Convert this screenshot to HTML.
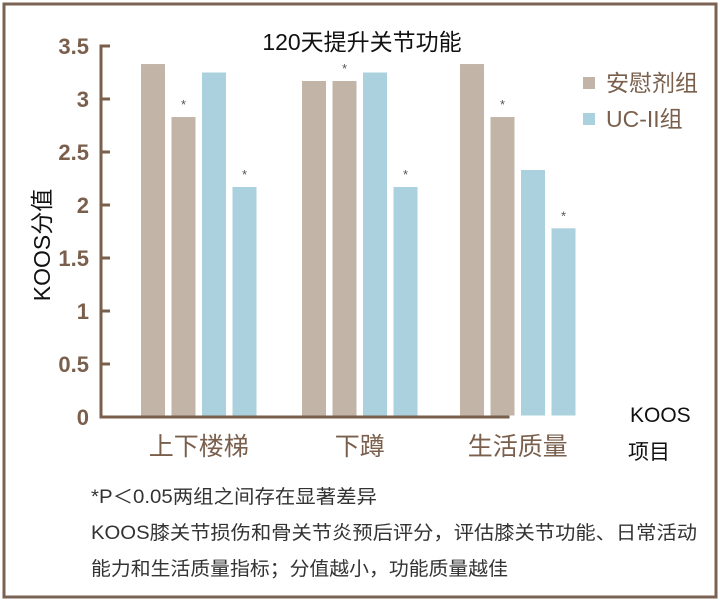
<!DOCTYPE html>
<html><head><meta charset="utf-8"><style>
body{margin:0;background:#fff;}
svg{display:block;font-family:"Liberation Sans","Noto Sans CJK SC",sans-serif;}
</style></head><body>
<svg width="720" height="601" viewBox="0 0 720 601" xmlns="http://www.w3.org/2000/svg">
<rect x="4" y="4" width="712" height="593" fill="#fff" stroke="#7a6352" stroke-width="3"/>
<text x="362" y="50" font-size="23" text-anchor="middle" fill="#111">120天提升关节功能</text>
<text transform="translate(50,245) rotate(-90)" font-size="23" text-anchor="middle" fill="#111">KOOS分值</text>
<text x="630" y="422" font-size="21" fill="#111">KOOS</text>
<text x="628" y="459" font-size="21" fill="#111">项目</text>
<g id="axes"></g>
<g id="bars"></g>
<g>
<rect x="583" y="77" width="12" height="12" fill="#c2b5a8"/>
<text x="606" y="91" font-size="23" fill="#7a5f4c">安慰剂组</text>
<rect x="583" y="113" width="12" height="12" fill="#abd0de"/>
<text x="606" y="127" font-size="23" fill="#7a5f4c">UC-II组</text>
</g>
<g fill="#333" font-size="19">
<text x="91" y="503" textLength="286" lengthAdjust="spacingAndGlyphs">*P＜0.05两组之间存在显著差异</text>
<text x="91" y="539" textLength="606" lengthAdjust="spacingAndGlyphs">KOOS膝关节损伤和骨关节炎预后评分，评估膝关节功能、日常活动</text>
<text x="91" y="575" textLength="417" lengthAdjust="spacingAndGlyphs">能力和生活质量指标；分值越小，功能质量越佳</text>
</g>
</svg>
<script>
const categories=["上下楼梯","下蹲","生活质量"];
const placeboBefore=[3.33,3.17,3.33];
const placeboAfter=[2.83,3.17,2.83];
const uciiBefore=[3.25,3.25,2.33];
const uciiAfter=[2.17,2.17,1.78];
const sigStars=[[false,true,false,true],[false,true,false,true],[false,true,false,true]];
const yTicks=[0,0.5,1,1.5,2,2.5,3,3.5];
const NS="http://www.w3.org/2000/svg";
const y0=417,yTop=46,yMax=3.5;
function yScale(v){return y0-(v/yMax)*(y0-yTop);}
const groupX=[141,302,460],barStep=30.5,barW=24;
function xBar(g,i){return groupX[g]+i*barStep;}
function mk(t,a,p){const e=document.createElementNS(NS,t);for(const k in a)e.setAttribute(k,a[k]);p.appendChild(e);return e;}
const axes=document.getElementById('axes'),bars=document.getElementById('bars');
const ax=mk('path',{d:`M110 ${yScale(3.5)} H101 V${y0} H508 V${y0-10}`,fill:'none',stroke:'#7a5f4c','stroke-width':3},axes);


yTicks.forEach(v=>{
 const t=mk('line',{x1:101,x2:110,y1:yScale(v),y2:yScale(v),stroke:'#7a5f4c','stroke-width':3},axes);
 
 
 const l=mk('text',{x:89,y:yScale(v)+8,'text-anchor':'end','font-size':22,'font-weight':'bold',fill:'#7a5f4c'},axes);
 l.textContent=String(v);
 
 
});
const colors=['#c2b5a8','#c2b5a8','#abd0de','#abd0de'];
categories.forEach((c,g)=>{
 const vals=[placeboBefore[g],placeboAfter[g],uciiBefore[g],uciiAfter[g]];
 vals.forEach((v,i)=>{
  const r=mk('rect',{x:xBar(g,i),y:yScale(v),width:barW,height:y0-1.5-yScale(v),fill:colors[i]},bars);
  
  
  if(sigStars[g][i]){
   const s=mk('text',{x:xBar(g,i)+barW/2,y:yScale(v)-8,'text-anchor':'middle','font-size':13,fill:'#555'},bars);
   s.textContent='*';
   
   
  }
 });
 const l=mk('text',{x:xBar(g,0)+(3*barStep+barW)/2,y:455,'text-anchor':'middle','font-size':25,fill:'#7a5f4c'},bars);
 l.textContent=c;
 
 
});
</script>
</body></html>
